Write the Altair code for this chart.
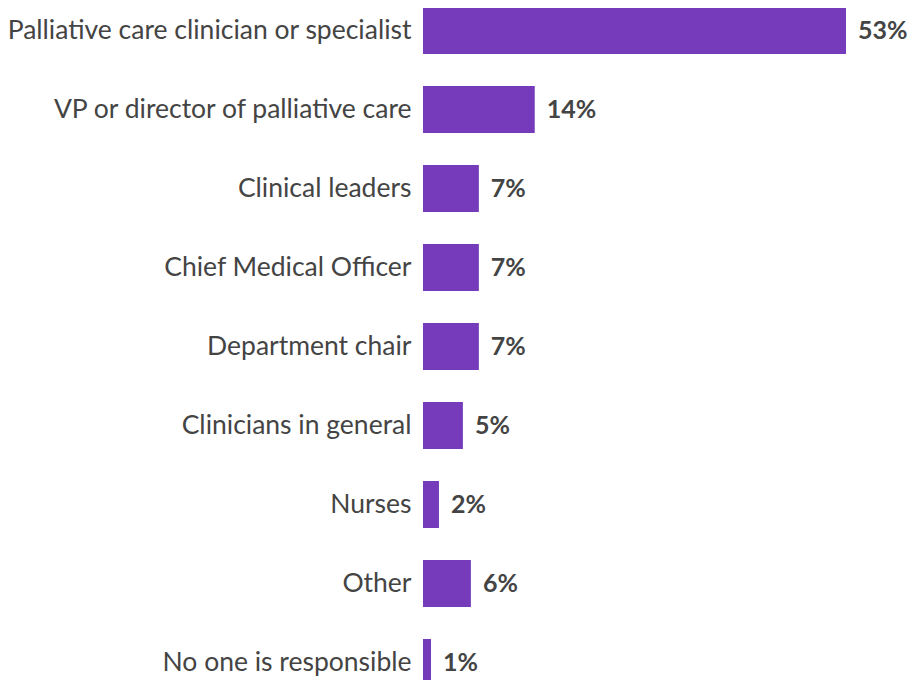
import altair as alt
import pandas as pd

categories = [
    "Palliative care clinician or specialist",
    "VP or director of palliative care",
    "Clinical leaders",
    "Chief Medical Officer",
    "Department chair",
    "Clinicians in general",
    "Nurses",
    "Other",
    "No one is responsible",
]
values = [53, 14, 7, 7, 7, 5, 2, 6, 1]

df = pd.DataFrame({"cat": categories, "val": values})
df["label"] = df["val"].astype(str) + "%"

FONT = "Lato"

y = alt.Y(
    "cat:N",
    sort=categories,
    title=None,
    scale=alt.Scale(range=[-17, 694], paddingInner=0.405, paddingOuter=0.2025),
    axis=alt.Axis(
        domain=False, ticks=False, grid=False, labelPadding=12,
        labelFontSize=26.5, labelColor="#444444", labelFont=FONT, labelLimit=600,
    ),
)
x = alt.X("val:Q", title=None, scale=alt.Scale(domain=[0, 53]), axis=None)

bars = alt.Chart(df).mark_bar(color="#763BBA").encode(x=x, y=y)
text = alt.Chart(df).mark_text(
    align="left", baseline="middle", dx=12, font=FONT, fontSize=25,
    fontWeight="bold", color="#444444",
).encode(x=x, y=y, text="label:N")

chart = (bars + text).properties(
    width=423, height=672,
    autosize=alt.AutoSizeParams(type="none"),
    padding={"left": 415, "top": 0, "right": 64, "bottom": 0},
).configure_view(stroke=None)

chart.save("out.html", embed_options={"renderer": "svg", "actions": False})
